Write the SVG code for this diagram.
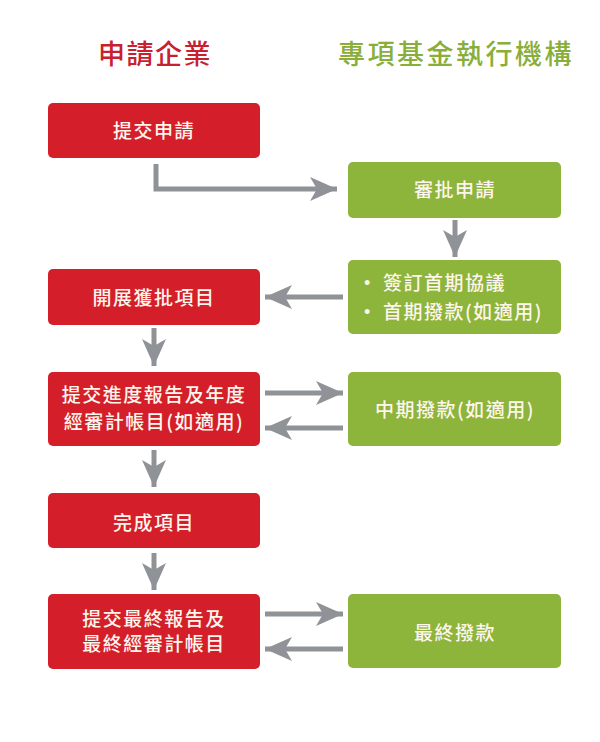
<svg xmlns="http://www.w3.org/2000/svg" width="600" height="742" viewBox="0 0 600 742">
<style>
.title{font-family:"Noto Sans CJK TC","Noto Sans CJK SC",sans-serif;font-size:27px;font-weight:500;text-anchor:middle}
.red{fill:#d41f2b}
.green{fill:#8db43b}
.lbl{font-family:"Noto Sans CJK TC","Noto Sans CJK SC",sans-serif;font-size:19px;font-weight:500;fill:#fdf6ec;text-anchor:middle;letter-spacing:1.5px}
.lbll{font-family:"Noto Sans CJK TC","Noto Sans CJK SC",sans-serif;font-size:19px;font-weight:500;fill:#fdf6ec;letter-spacing:1.5px}
.bul{font-family:"Liberation Sans",sans-serif;font-size:18px;fill:#fdf6ec}
.con{stroke:#8f9297;stroke-width:5;fill:none;marker-end:url(#ah)}
</style>
<defs>
<marker id="ah" markerUnits="userSpaceOnUse" viewBox="-28 -13 30 26" refX="0" refY="0" markerWidth="30" markerHeight="26" orient="auto">
<path d="M0,0 L-27,-12 L-20,0 L-27,12 Z" fill="#8f9297"/>
</marker>
</defs>
<rect width="600" height="742" fill="#ffffff"/>
<text class="title" x="155" y="64" fill="#c8202e" letter-spacing="1.5">申請企業</text>
<text class="title" x="456" y="64" fill="#8aae3a" letter-spacing="2.5">專項基金執行機構</text>

<g id="connectors">
<path class="con" d="M156,164 V189 H337"/>
<path class="con" d="M455,220 V257"/>
<path class="con" d="M343,297 H265"/>
<path class="con" d="M154,328 V366"/>
<path class="con" d="M265,393 H343"/>
<path class="con" d="M343,428 H265"/>
<path class="con" d="M154,450 V487"/>
<path class="con" d="M154,553 V590"/>
<path class="con" d="M265,614 H343"/>
<path class="con" d="M343,649 H265"/>
</g>

<g id="n1"><rect class="red" x="48" y="103" width="212" height="55" rx="5"/><text class="lbl" x="154" y="138">提交申請</text></g>
<g id="n2"><rect class="green" x="348" y="162" width="213" height="56" rx="5"/><text class="lbl" x="455" y="197">審批申請</text></g>
<g id="n3"><rect class="green" x="348" y="260" width="213" height="74" rx="5"/>
<text class="bul" x="364" y="289">•</text><text class="lbll" x="383" y="290">簽訂首期協議</text>
<text class="bul" x="364" y="318">•</text><text class="lbll" x="383" y="319">首期撥款(如適用)</text></g>
<g id="n4"><rect class="red" x="48" y="269" width="212" height="56" rx="5"/><text class="lbl" x="154" y="305">開展獲批項目</text></g>
<g id="n5"><rect class="red" x="48" y="372" width="212" height="74" rx="5"/><text class="lbl" x="154" y="402">提交進度報告及年度</text><text class="lbl" x="154" y="429">經審計帳目(如適用)</text></g>
<g id="n6"><rect class="green" x="348" y="372" width="213" height="74" rx="5"/><text class="lbl" x="455" y="417">中期撥款(如適用)</text></g>
<g id="n7"><rect class="red" x="48" y="493" width="212" height="55" rx="5"/><text class="lbl" x="154" y="530">完成項目</text></g>
<g id="n8"><rect class="red" x="48" y="594" width="212" height="75" rx="5"/><text class="lbl" x="154" y="626">提交最終報告及</text><text class="lbl" x="154" y="651">最終經審計帳目</text></g>
<g id="n9"><rect class="green" x="348" y="594" width="213" height="74" rx="5"/><text class="lbl" x="455" y="640">最終撥款</text></g>
</svg>
